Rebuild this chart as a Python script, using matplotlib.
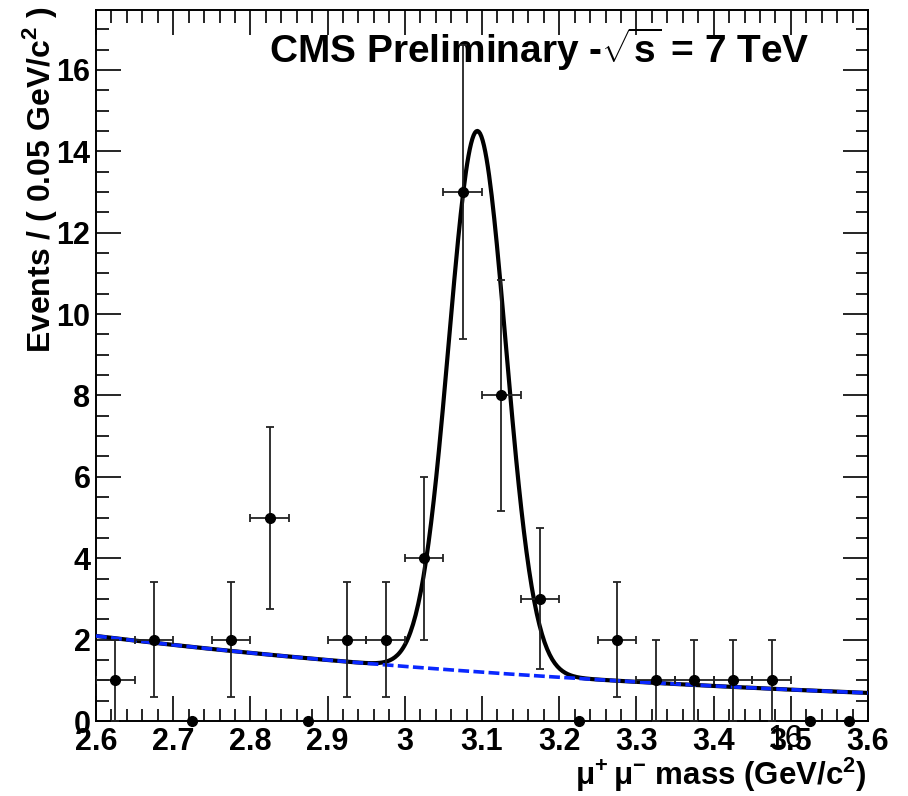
import numpy as np
import matplotlib
matplotlib.use("Agg")
import matplotlib.pyplot as plt
from matplotlib.ticker import MultipleLocator

# dimuon mass spectrum, 0.05 GeV bins
bin_centers = [2.625, 2.675, 2.725, 2.775, 2.825, 2.875, 2.925, 2.975, 3.025, 3.075,
               3.125, 3.175, 3.225, 3.275, 3.325, 3.375, 3.425, 3.475, 3.525, 3.575]
counts = [1, 2, 0, 2, 5, 0, 2, 2, 4, 13,
          8, 3, 0, 2, 1, 1, 1, 1, 0, 0]
bin_half_width = 0.025

# fit: gaussian signal + exponential background
bkg_norm = 2.09      # background at 2.6 GeV
bkg_slope = 1.108    # exponential slope
sig_amp = 13.29
sig_mean = 3.094
sig_sigma = 0.037

plt.rcParams["font.family"] = ["Liberation Sans", "DejaVu Sans"]
plt.rcParams["mathtext.fontset"] = "custom"
plt.rcParams["mathtext.rm"] = "Liberation Sans:bold"
plt.rcParams["mathtext.bf"] = "Liberation Sans:bold"

fig = plt.figure(figsize=(9.08, 7.96), dpi=100)
ax = fig.add_axes([0.1057, 0.0942, 0.8503, 0.8932])

x = np.linspace(2.6, 3.6, 600)
bkg = bkg_norm * np.exp(-bkg_slope * (x - 2.6))
total = bkg + sig_amp * np.exp(-(x - sig_mean) ** 2 / (2 * sig_sigma ** 2))

ax.plot(x, total, color="black", lw=3.0, zorder=2)
ax.plot(x, bkg, color="#0a28ff", lw=2.6, dashes=(3.0, 1.2), zorder=3)

xs = np.array(bin_centers)
ys = np.array(counts, dtype=float)
err = np.sqrt(ys)
nz = ys > 0
ax.errorbar(xs[nz], ys[nz], xerr=bin_half_width, yerr=err[nz], fmt="o", color="black",
            ecolor="#222222", ms=7, elinewidth=1.3, capsize=3, capthick=1.3, zorder=4)
ax.plot(xs[~nz], ys[~nz], "o", color="black", ms=7, clip_on=False, zorder=5)

ax.set_xlim(2.6, 3.6)
ax.set_ylim(0, 17.47)
ax.xaxis.set_major_locator(MultipleLocator(0.1))
ax.xaxis.set_minor_locator(MultipleLocator(0.02))
ax.yaxis.set_major_locator(MultipleLocator(2))
ax.yaxis.set_minor_locator(MultipleLocator(0.5))
ax.xaxis.set_major_formatter(plt.FuncFormatter(lambda v, p: f"{v:g}"))
ax.tick_params(which="both", direction="in", top=True, right=True, width=1.2)
ax.tick_params(which="major", length=18, labelsize=22, pad=4)
ax.tick_params(which="minor", length=9)
for lab in ax.get_xticklabels() + ax.get_yticklabels():
    lab.set_fontweight("bold")
for sp in ax.spines.values():
    sp.set_linewidth(1.4)

fig.text(0.044, 0.992, "Events / ( 0.05 GeV/c$^{2}$ )", rotation=90, ha="center", va="top",
         fontsize=23, fontweight="bold")
fig.text(0.954, 0.027, r"$\mathregular{\mu^{+}\,\mu^{-}}$ mass (GeV/c$^{2}$)", ha="right",
         va="center", fontsize=22.5, fontweight="bold")
ax.text(0.574, 0.945, r"CMS Preliminary -$\sqrt{\mathrm{s}}$ = 7 TeV", transform=ax.transAxes,
        ha="center", va="center", fontsize=28, fontweight="bold")
fig.text(0.865, 0.072, "16", ha="center", va="center", fontsize=23)

fig.savefig("out.png", dpi=100)
